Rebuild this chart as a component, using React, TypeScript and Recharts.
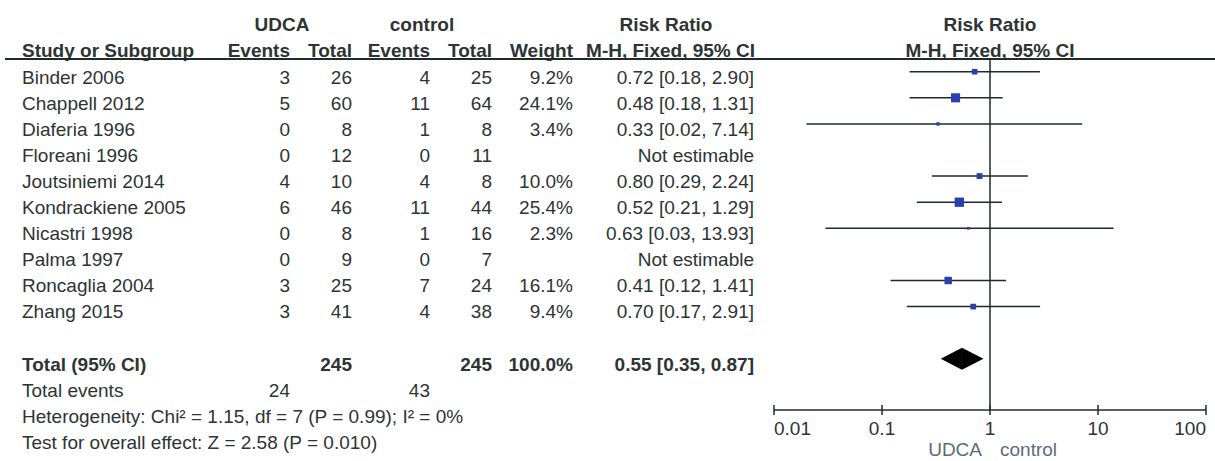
import { ScatterChart, Scatter, XAxis, YAxis, ReferenceLine, ReferenceArea, Customized } from "recharts";

// per-study counts and risk ratios (M-H, fixed effect)
const studies = [
  "Binder 2006",
  "Chappell 2012",
  "Diaferia 1996",
  "Floreani 1996",
  "Joutsiniemi 2014",
  "Kondrackiene 2005",
  "Nicastri 1998",
  "Palma 1997",
  "Roncaglia 2004",
  "Zhang 2015",
];
const udcaEvents = [3, 5, 0, 0, 4, 6, 0, 0, 3, 3];
const udcaTotal = [26, 60, 8, 12, 10, 46, 8, 9, 25, 41];
const controlEvents = [4, 11, 1, 0, 4, 11, 1, 0, 7, 4];
const controlTotal = [25, 64, 8, 11, 8, 44, 16, 7, 24, 38];
const weights = [9.2, 24.1, 3.4, null, 10.0, 25.4, 2.3, null, 16.1, 9.4];
const riskRatio = [0.72, 0.48, 0.33, null, 0.8, 0.52, 0.63, null, 0.41, 0.7];
const ciLow = [0.18, 0.18, 0.02, null, 0.29, 0.21, 0.03, null, 0.12, 0.17];
const ciHigh = [2.9, 1.31, 7.14, null, 2.24, 1.29, 13.93, null, 1.41, 2.91];

// pooled result
const pooled = { rr: 0.55, low: 0.35, high: 0.87 };
const pooledTotals = { udca: 245, control: 245, weight: 100.0 };
const pooledEvents = { udca: 24, control: 43 };
const heterogeneity = "Heterogeneity: Chi² = 1.15, df = 7 (P = 0.99); I² = 0%";
const overallEffect = "Test for overall effect: Z = 2.58 (P = 0.010)";

const axisTicks = [0.01, 0.1, 1, 10, 100];
const axisTickLabels = ["0.01", "0.1", "1", "10", "100"];

const TOTAL_ROW = 11;

const rows = studies.map((name, i) => ({
  row: i,
  name,
  weight: weights[i],
  rr: riskRatio[i],
  low: ciLow[i],
  high: ciHigh[i],
}));
const estimable = rows.filter((r) => r.rr !== null);

const FONT = "'Liberation Sans', Arial, sans-serif";
const TEXT = "#2d3434";
const LINE = "#1f2b2b";
const BLUE = "#2a3fae";
const FS = 19;

const W = 1215;
const H = 461;

// table text rows share the plot's row pitch
const baseline = (i: number) => 83.5 + 26.1 * i;

const fmt2 = (v: number) => v.toFixed(2);
const ciText = (rr: number, lo: number, hi: number) => `${fmt2(rr)} [${fmt2(lo)}, ${fmt2(hi)}]`;

const COL = { name: 22, ue: 290, ut: 352, ce: 430, ct: 492, w: 573, rr: 754 };

function Cell({ x, i, anchor = "end", bold = false, children }: any) {
  return (
    <text
      x={x}
      y={baseline(i)}
      textAnchor={anchor}
      fontFamily={FONT}
      fontSize={FS}
      fontWeight={bold ? "bold" : "normal"}
      fill={TEXT}
    >
      {children}
    </text>
  );
}

function TableText() {
  return (
    <g>
      {/* column headers */}
      <Cell x={282} i={-2} anchor="middle" bold>UDCA</Cell>
      <Cell x={422} i={-2} anchor="middle" bold>control</Cell>
      <Cell x={666} i={-2} anchor="middle" bold>Risk Ratio</Cell>
      <Cell x={990} i={-2} anchor="middle" bold>Risk Ratio</Cell>
      <Cell x={COL.name} i={-1} anchor="start" bold>Study or Subgroup</Cell>
      <Cell x={COL.ue} i={-1} bold>Events</Cell>
      <Cell x={COL.ut} i={-1} bold>Total</Cell>
      <Cell x={COL.ce} i={-1} bold>Events</Cell>
      <Cell x={COL.ct} i={-1} bold>Total</Cell>
      <Cell x={COL.w} i={-1} bold>Weight</Cell>
      <Cell x={755} i={-1} bold>M-H, Fixed, 95% CI</Cell>
      <Cell x={990} i={-1} anchor="middle" bold>M-H, Fixed, 95% CI</Cell>
      <line x1={5} x2={W} y1={59} y2={59} stroke={LINE} strokeWidth={2} />

      {/* study rows */}
      {rows.map((r) => (
        <g key={r.name}>
          <Cell x={COL.name} i={r.row} anchor="start">{r.name}</Cell>
          <Cell x={COL.ue} i={r.row}>{udcaEvents[r.row]}</Cell>
          <Cell x={COL.ut} i={r.row}>{udcaTotal[r.row]}</Cell>
          <Cell x={COL.ce} i={r.row}>{controlEvents[r.row]}</Cell>
          <Cell x={COL.ct} i={r.row}>{controlTotal[r.row]}</Cell>
          {r.weight !== null && <Cell x={COL.w} i={r.row}>{r.weight.toFixed(1)}%</Cell>}
          <Cell x={COL.rr} i={r.row}>
            {r.rr !== null ? ciText(r.rr, r.low as number, r.high as number) : "Not estimable"}
          </Cell>
        </g>
      ))}

      {/* pooled rows */}
      <Cell x={COL.name} i={TOTAL_ROW} anchor="start" bold>Total (95% CI)</Cell>
      <Cell x={COL.ut} i={TOTAL_ROW} bold>{pooledTotals.udca}</Cell>
      <Cell x={COL.ct} i={TOTAL_ROW} bold>{pooledTotals.control}</Cell>
      <Cell x={COL.w} i={TOTAL_ROW} bold>{pooledTotals.weight.toFixed(1)}%</Cell>
      <Cell x={COL.rr} i={TOTAL_ROW} bold>{ciText(pooled.rr, pooled.low, pooled.high)}</Cell>
      <Cell x={COL.name} i={TOTAL_ROW + 1} anchor="start">Total events</Cell>
      <Cell x={COL.ue} i={TOTAL_ROW + 1}>{pooledEvents.udca}</Cell>
      <Cell x={COL.ce} i={TOTAL_ROW + 1}>{pooledEvents.control}</Cell>
      <Cell x={COL.name} i={TOTAL_ROW + 2} anchor="start">{heterogeneity}</Cell>
      <Cell x={COL.name} i={TOTAL_ROW + 3} anchor="start">{overallEffect}</Cell>

      {/* favours labels under the axis */}
      <text x={982} y={456} textAnchor="end" fontFamily={FONT} fontSize={FS} fill="#5f6b78">UDCA</text>
      <text x={1000} y={456} textAnchor="start" fontFamily={FONT} fontSize={FS} fill="#5f6b78">control</text>
    </g>
  );
}

function AxisTick({ x, y, payload }: any) {
  const idx = axisTicks.indexOf(payload.value);
  const anchor = idx === 0 ? "start" : idx === axisTicks.length - 1 ? "end" : "middle";
  return (
    <g>
      <line x1={x} x2={x} y1={y - 5} y2={y + 5} stroke={LINE} strokeWidth={1.5} />
      <text x={x} y={y + 25} textAnchor={anchor} fontFamily={FONT} fontSize={FS} fill={TEXT}>
        {axisTickLabels[idx]}
      </text>
    </g>
  );
}

function WeightSquare({ cx, cy, payload }: any) {
  const side = 1.85 * Math.sqrt(payload.weight);
  return <rect x={cx - side / 2} y={cy - side / 2} width={side} height={side} fill={BLUE} />;
}

const noPoint = () => <g />;

function LeftHalf({ x, y, width, height }: any) {
  return <polygon points={`${x},${y + height / 2} ${x + width},${y} ${x + width},${y + height}`} fill="#000" />;
}

function RightHalf({ x, y, width, height }: any) {
  return <polygon points={`${x},${y} ${x + width},${y + height / 2} ${x},${y + height}`} fill="#000" />;
}

export default function App() {
  return (
    <div style={{ width: W, height: H, background: "#fff" }}>
      <style>{"body{margin:0}"}</style>
      <ScatterChart width={W} height={H} margin={{ top: 59, right: 9, bottom: 1, left: 774 }}>
        <XAxis
          dataKey="rr"
          type="number"
          scale="log"
          domain={[0.01, 100]}
          ticks={axisTicks}
          interval={0}
          allowDataOverflow
          height={50}
          tickSize={0}
          tickMargin={0}
          tickLine={false}
          axisLine={{ stroke: LINE, strokeWidth: 1.5 }}
          tick={<AxisTick />}
        />
        <YAxis dataKey="row" type="number" domain={[-0.487, 12.962]} reversed hide allowDataOverflow />

        <ReferenceLine x={1} stroke={LINE} strokeWidth={1.5} />

        {/* confidence intervals */}
        {estimable.map((r) => (
          <Scatter
            key={`ci-${r.name}`}
            data={[
              { rr: r.low, row: r.row },
              { rr: r.high, row: r.row },
            ]}
            line={{ stroke: LINE, strokeWidth: 1.5 }}
            shape={noPoint}
            isAnimationActive={false}
          />
        ))}

        {/* point estimates sized by weight */}
        <Scatter data={estimable} shape={WeightSquare} isAnimationActive={false} />

        {/* pooled diamond */}
        <ReferenceArea
          x1={pooled.low}
          x2={pooled.rr}
          y1={TOTAL_ROW - 0.42}
          y2={TOTAL_ROW + 0.42}
          shape={<LeftHalf />}
        />
        <ReferenceArea
          x1={pooled.rr}
          x2={pooled.high}
          y1={TOTAL_ROW - 0.42}
          y2={TOTAL_ROW + 0.42}
          shape={<RightHalf />}
        />

        <Customized component={<TableText />} />
      </ScatterChart>
    </div>
  );
}
